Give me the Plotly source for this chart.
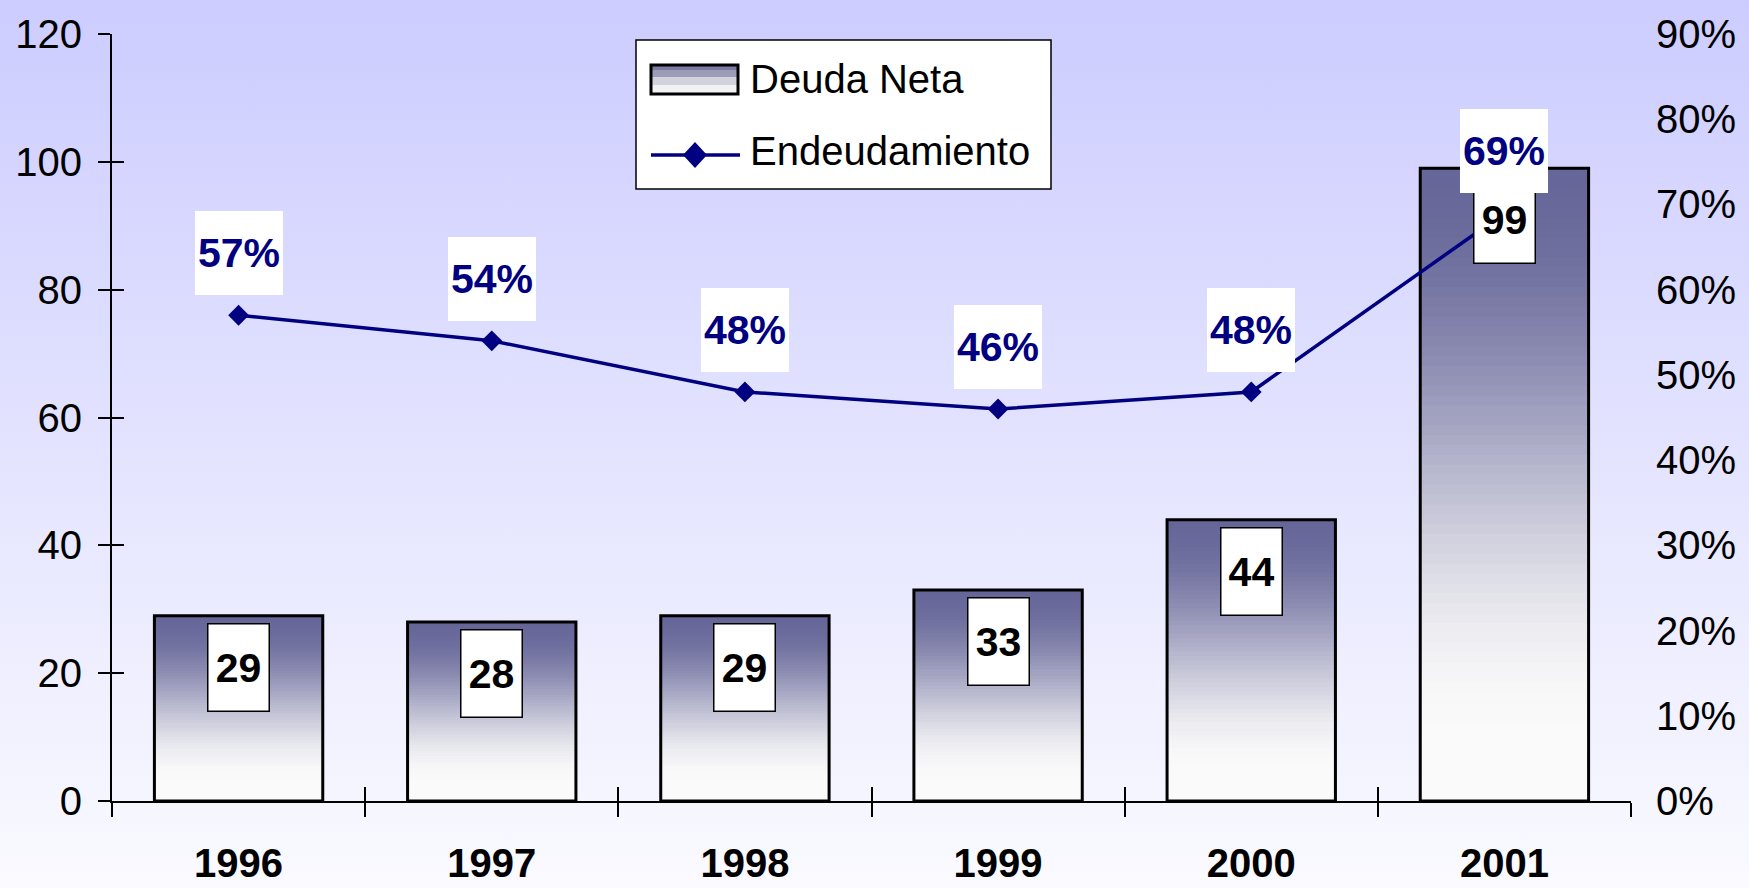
import base64
import plotly.graph_objects as go

# ---------------- data ----------------
years = ["1996", "1997", "1998", "1999", "2000", "2001"]
deuda_neta = [29, 28, 29, 33, 44, 99]
endeudamiento = [0.57, 0.54, 0.48, 0.46, 0.48, 0.69]
left_ticks = [0, 20, 40, 60, 80, 100, 120]
right_ticks = [0.0, 0.1, 0.2, 0.3, 0.4, 0.5, 0.6, 0.7, 0.8, 0.9]
legend_names = ["Deuda Neta", "Endeudamiento"]

# ---------------- geometry / style ----------------
W, H = 1749, 888
ML, MR, MT, MB = 112, 118, 34, 87
PW = W - ML - MR
PH = H - MT - MB
FONT = "Liberation Sans, Arial, sans-serif"
NAVY = "#000080"
BAR_W = 0.665


def px(x):
    return (x - ML) / PW


def py(y):
    return (H - MB - y) / PH


def smooth(t):
    t = max(0.0, min(1.0, t))
    return t * t * (3 - 2 * t)


dark = (0x66, 0x66, 0x99)
light = (0xFA, 0xFA, 0xFA)

fig = go.Figure()

# gradient-filled bars (overlapping slices from bottom to top)
N = 64
for k in range(N):
    t = 1 - (k + 0.5) / N  # 0 at top, 1 at bottom
    f = smooth(t / 0.9)
    c = tuple(round(dark[i] + (light[i] - dark[i]) * f) for i in range(3))
    fig.add_trace(go.Bar(
        x=years,
        y=[v * (1 - k / N) for v in deuda_neta],
        base=[v * k / N for v in deuda_neta],
        width=BAR_W,
        marker=dict(color="rgb(%d,%d,%d)" % c, line=dict(width=0)),
        showlegend=False, hoverinfo="skip", xaxis="x", yaxis="y",
    ))

# bar outline
fig.add_trace(go.Bar(
    x=years, y=deuda_neta, width=BAR_W, name=legend_names[0],
    marker=dict(color="rgba(0,0,0,0)", line=dict(color="black", width=3)),
    showlegend=False, xaxis="x", yaxis="y",
))

# dummy traces for crossing tick overlays
fig.add_trace(go.Scatter(x=years, y=[None] * len(years), xaxis="x2", yaxis="y",
                         showlegend=False, hoverinfo="skip"))
fig.add_trace(go.Scatter(x=years, y=[None] * len(years), xaxis="x", yaxis="y3",
                         showlegend=False, hoverinfo="skip"))

# line
fig.add_trace(go.Scatter(
    x=years, y=endeudamiento, name=legend_names[1], mode="lines+markers",
    line=dict(color=NAVY, width=3.5),
    marker=dict(symbol="diamond", size=16, color=NAVY),
    showlegend=False, xaxis="x", yaxis="y2",
))

# ---------------- annotations ----------------
annotations = []
for i, v in enumerate(deuda_neta):
    annotations.append(dict(
        x=i, y=v, xref="x", yref="y", yanchor="top", yshift=-7,
        text="<b>%d</b>" % v, showarrow=False, width=58, height=84, valign="middle",
        bgcolor="white", bordercolor="black", borderwidth=1.5, borderpad=1,
        font=dict(family=FONT, size=41, color="black"),
    ))
for i, p in enumerate(endeudamiento):
    annotations.append(dict(
        x=i, y=p, xref="x", yref="y2", yanchor="bottom", yshift=20,
        text="<b>%d%%</b>" % round(p * 100), showarrow=False, width=88, height=84,
        valign="middle", bgcolor="white", borderwidth=0, borderpad=0,
        font=dict(family=FONT, size=41, color=NAVY),
    ))

# custom legend
shapes = []
shapes.append(dict(type="rect", xref="paper", yref="paper",
                   x0=px(636), x1=px(1051), y0=py(189), y1=py(40),
                   fillcolor="white", line=dict(color="black", width=1.5)))
bands = [(65, 70, "#7A7AA2"), (70, 77, "#9C9CB8"), (77, 85, "#D2D2DC"), (85, 94, "#F2F2F2")]
for y0, y1, col in bands:
    shapes.append(dict(type="rect", xref="paper", yref="paper",
                       x0=px(651), x1=px(738), y0=py(y1), y1=py(y0),
                       fillcolor=col, line=dict(width=0)))
shapes.append(dict(type="rect", xref="paper", yref="paper",
                   x0=px(651), x1=px(738), y0=py(94), y1=py(65),
                   fillcolor="rgba(0,0,0,0)", line=dict(color="black", width=3)))
shapes.append(dict(type="line", xref="paper", yref="paper",
                   x0=px(651), x1=px(740), y0=py(155), y1=py(155),
                   line=dict(color=NAVY, width=3.5)))
cx, cy, hw, hh = 695, 155, 12, 13
path = "M %f,%f L %f,%f L %f,%f L %f,%f Z" % (
    px(cx), py(cy - hh), px(cx + hw), py(cy), px(cx), py(cy + hh), px(cx - hw), py(cy))
shapes.append(dict(type="path", xref="paper", yref="paper", path=path,
                   fillcolor=NAVY, line=dict(width=0)))
annotations.append(dict(x=px(748), y=py(79), xref="paper", yref="paper",
                        xanchor="left", yanchor="middle", text=legend_names[0],
                        showarrow=False, font=dict(family=FONT, size=40, color="black")))
annotations.append(dict(x=px(748), y=py(151), xref="paper", yref="paper",
                        xanchor="left", yanchor="middle", text=legend_names[1],
                        showarrow=False, font=dict(family=FONT, size=40, color="black")))

# background gradient image
svg = ('<svg xmlns="http://www.w3.org/2000/svg" width="1749" height="888" '
       'preserveAspectRatio="none"><defs><linearGradient id="g" x1="0" y1="0" x2="0" y2="1">'
       '<stop offset="0" stop-color="#CCCCFF"/><stop offset="1" stop-color="#FAFAFF"/>'
       '</linearGradient></defs><rect width="1749" height="888" fill="url(#g)"/></svg>')
src = "data:image/svg+xml;base64," + base64.b64encode(svg.encode()).decode()
images = [dict(source=src, xref="paper", yref="paper", x=-ML / PW, y=1 + MT / PH,
               sizex=W / PW, sizey=H / PH, xanchor="left", yanchor="top",
               sizing="stretch", layer="below")]

tickfont = dict(family=FONT, size=40, color="black")

fig.update_layout(
    width=W, height=H,
    margin=dict(l=ML, r=MR, t=MT, b=MB, pad=0, autoexpand=False),
    paper_bgcolor="#FAFAFF", plot_bgcolor="rgba(0,0,0,0)",
    barmode="overlay", showlegend=False,
    images=images, shapes=shapes, annotations=annotations,
    xaxis=dict(type="category", categoryarray=years, range=[-0.5, 5.5],
               showline=True, linecolor="black", linewidth=2, automargin=False,
               ticks="outside", tickson="boundaries", ticklen=14, tickwidth=2,
               tickcolor="black", showgrid=False, zeroline=False,
               tickfont=dict(family=FONT, size=40, color="black", weight="bold"),
               ticklabelstandoff=26, anchor="y"),
    xaxis2=dict(type="category", categoryarray=years, range=[-0.5, 5.5],
                overlaying="x", anchor="y", side="bottom", automargin=False,
                ticks="inside", tickson="boundaries", ticklen=14, tickwidth=2,
                tickcolor="black", showticklabels=False, showline=False,
                showgrid=False, zeroline=False),
    yaxis=dict(range=[0, 120], tickvals=left_ticks, showline=True, automargin=False,
               linecolor="black", linewidth=2, ticks="outside", ticklen=12,
               tickwidth=2, tickcolor="black", showgrid=False, zeroline=False,
               tickfont=tickfont, ticklabelstandoff=8),
    yaxis3=dict(range=[0, 120], tickvals=left_ticks, overlaying="y", side="left",
                anchor="x", ticks="inside", ticklen=12, tickwidth=2, tickcolor="black",
                automargin=False,
                showticklabels=False, showline=False, showgrid=False, zeroline=False),
    yaxis2=dict(range=[0, 0.9], tickvals=right_ticks, tickformat=".0%",
                overlaying="y", side="right", anchor="x", showline=False,
                automargin=False,
                ticks="", showgrid=False, zeroline=False, tickfont=tickfont,
                ticklabelstandoff=24),
)

fig.write_html("out.html", config={"displayModeBar": False},
               post_script="document.body.style.margin='0';")
